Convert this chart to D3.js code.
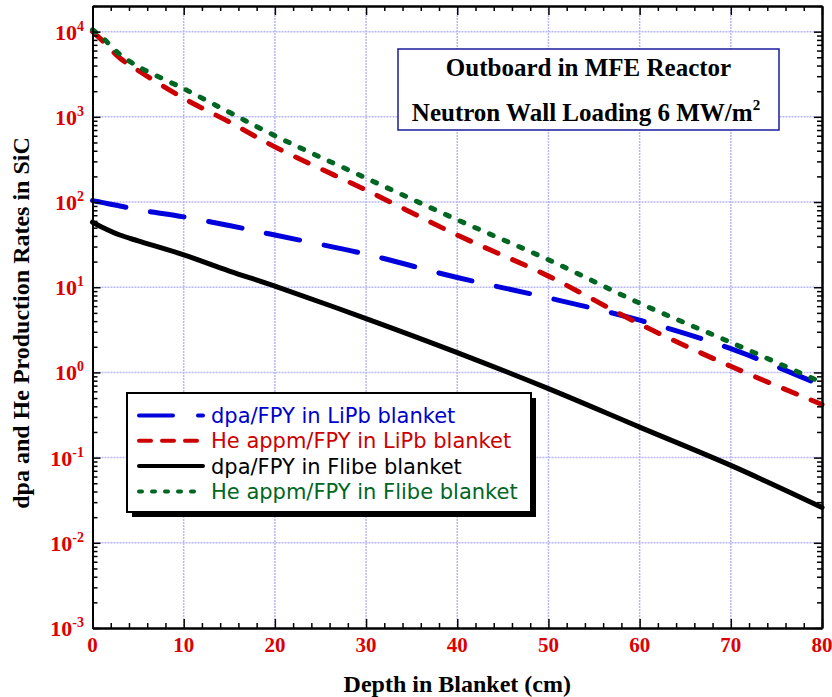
<!DOCTYPE html>
<html>
<head>
<meta charset="utf-8">
<script src="https://cdn.jsdelivr.net/npm/d3@7"></script>
<style>
  body { margin: 0; background: #fff; }
</style>
</head>
<body>
<script>
// depth in blanket (cm) and production rates
const depth      = [0, 1, 3, 5, 10, 15, 20, 30, 40, 50, 60, 70, 80];
const dpaLiPb    = [104, 99, 90, 81, 67, 53, 41, 24.4, 13, 7.5, 4.1, 1.9, 0.70];
const heLiPb     = [10000, 8000, 4900, 3500, 1650, 870, 444, 138, 41, 13.5, 3.7, 1.18, 0.42];
const dpaFlibe   = [58, 51, 41, 35, 24, 15.5, 10.3, 4.29, 1.71, 0.645, 0.228, 0.081, 0.026];
const heFlibe    = [10500, 8700, 5400, 3900, 2140, 1130, 600, 191, 62, 21, 6.5, 2.25, 0.76];

const seriesNames = [
    "dpa/FPY in LiPb blanket",
    "He appm/FPY in LiPb blanket",
    "dpa/FPY in Flibe blanket",
    "He appm/FPY in Flibe blanket"
];
const xTickValues = [0, 10, 20, 30, 40, 50, 60, 70, 80];
const yExponents = [-3, -2, -1, 0, 1, 2, 3, 4];
const titleLine1 = "Outboard in MFE Reactor";
const titleLine2 = "Neutron Wall Loading 6 MW/m";
const xTitle = "Depth in Blanket (cm)";
const yTitle = "dpa and He Production Rates in SiC";

const width = 832, height = 697;
const plotLeft = 92.5, plotRight = 822, plotTop = 6, plotBottom = 628;
const serif = "'Liberation Serif', 'Times New Roman', serif";
const sans = "'DejaVu Sans', sans-serif";

const svg = d3.select("body").append("svg")
    .attr("width", width)
    .attr("height", height)
    .attr("font-family", serif);

const x = d3.scaleLinear().domain([0, 80]).range([plotLeft, plotRight]);
const y = d3.scaleLog().domain([1e-3, 2e4]).range([plotBottom, plotTop]);

const gridColor = "#b8b8f4";
const red = "#dd0000";

// grid
const grid = svg.append("g");
grid.selectAll(".gx").data(xTickValues.slice(1, -1)).enter().append("line")
    .attr("x1", d => x(d)).attr("x2", d => x(d))
    .attr("y1", plotTop).attr("y2", plotBottom)
    .attr("stroke", gridColor).attr("stroke-width", 1.5)
    .attr("stroke-dasharray", "2,1");
grid.selectAll(".gy").data(yExponents.slice(1)).enter().append("line")
    .attr("x1", plotLeft).attr("x2", plotRight)
    .attr("y1", d => y(Math.pow(10, d))).attr("y2", d => y(Math.pow(10, d)))
    .attr("stroke", gridColor).attr("stroke-width", 1.5)
    .attr("stroke-dasharray", "2,1");

// series
const series = [
    { values: dpaLiPb,  color: "#0000dd", dash: "34,25", legendDash: "34,25" },
    { values: heLiPb,   color: "#cc0000", dash: "14,16", legendDash: "12,11" },
    { values: dpaFlibe, color: "#000000", dash: null,    legendDash: null },
    { values: heFlibe,  color: "#006622", dash: "4,12",  legendDash: "3,10" }
];

const line = d3.line()
    .x(d => x(d[0]))
    .y(d => y(d[1]))
    .curve(d3.curveCatmullRom.alpha(0.5));

// draw order: black, blue, red, green on top
[2, 0, 1, 3].forEach(i => {
    const s = series[i];
    svg.append("path")
        .datum(depth.map((d, j) => [d, s.values[j]]))
        .attr("d", line)
        .attr("fill", "none")
        .attr("stroke", s.color)
        .attr("stroke-width", 5)
        .attr("stroke-linecap", "round")
        .attr("stroke-dasharray", s.dash);
});

// axes - ticks point inward on all four sides
const minorX = d3.range(0, 81, 2).filter(d => d % 10 !== 0);
const minorY = [];
yExponents.slice(0, -1).forEach(e => {
    for (let m = 2; m <= 9; m++) minorY.push(m * Math.pow(10, e));
});
minorY.push(2e4);

function styleAxis(g) {
    g.selectAll("path").attr("stroke", "#000").attr("stroke-width", 2);
    g.selectAll("line").attr("stroke", "#000").attr("stroke-width", 1.5);
    g.selectAll("text").remove();
}

svg.append("g").attr("transform", `translate(0,${plotBottom})`)
    .call(d3.axisBottom(x).tickValues(xTickValues).tickSize(-9).tickSizeOuter(0).tickFormat(""))
    .call(styleAxis);
svg.append("g").attr("transform", `translate(0,${plotBottom})`)
    .call(d3.axisBottom(x).tickValues(minorX).tickSize(-5).tickSizeOuter(0).tickFormat(""))
    .call(styleAxis);
svg.append("g").attr("transform", `translate(0,${plotTop})`)
    .call(d3.axisTop(x).tickValues(xTickValues).tickSize(-9).tickSizeOuter(0).tickFormat(""))
    .call(styleAxis);
svg.append("g").attr("transform", `translate(0,${plotTop})`)
    .call(d3.axisTop(x).tickValues(minorX).tickSize(-5).tickSizeOuter(0).tickFormat(""))
    .call(styleAxis);

const yMajor = yExponents.map(e => Math.pow(10, e));
svg.append("g").attr("transform", `translate(${plotLeft},0)`)
    .call(d3.axisLeft(y).tickValues(yMajor).tickSize(-8).tickSizeOuter(0).tickFormat(""))
    .call(styleAxis);
svg.append("g").attr("transform", `translate(${plotLeft},0)`)
    .call(d3.axisLeft(y).tickValues(minorY).tickSize(-5).tickSizeOuter(0).tickFormat(""))
    .call(styleAxis);
svg.append("g").attr("transform", `translate(${plotRight},0)`)
    .call(d3.axisRight(y).tickValues(yMajor).tickSize(-8).tickSizeOuter(0).tickFormat(""))
    .call(styleAxis);
svg.append("g").attr("transform", `translate(${plotRight},0)`)
    .call(d3.axisRight(y).tickValues(minorY).tickSize(-5).tickSizeOuter(0).tickFormat(""))
    .call(styleAxis);

// tick labels
svg.selectAll(".xlab").data(xTickValues).enter().append("text")
    .attr("x", d => x(d))
    .attr("y", 652)
    .attr("text-anchor", "middle")
    .attr("font-size", 21)
    .attr("font-weight", "bold")
    .attr("fill", red)
    .text(d => d);

const ylab = svg.selectAll(".ylab").data(yExponents).enter().append("text")
    .attr("x", 84)
    .attr("y", d => y(Math.pow(10, d)) + 8)
    .attr("text-anchor", "end")
    .attr("font-weight", "bold")
    .attr("fill", red);
ylab.append("tspan").attr("font-size", 22).text("10");
ylab.append("tspan").attr("font-size", 14).attr("dy", -9).text(d => d);

// axis titles
svg.append("text")
    .attr("x", (plotLeft + plotRight) / 2)
    .attr("y", 692)
    .attr("text-anchor", "middle")
    .attr("font-size", 24)
    .attr("font-weight", "bold")
    .text(xTitle);

svg.append("text")
    .attr("transform", `translate(29,${(plotTop + plotBottom) / 2 + 6}) rotate(-90)`)
    .attr("text-anchor", "middle")
    .attr("font-size", 24)
    .attr("font-weight", "bold")
    .text(yTitle);

// title box
const tb = svg.append("g");
tb.append("rect")
    .attr("x", 398).attr("y", 49).attr("width", 381).attr("height", 81)
    .attr("fill", "#fff").attr("stroke", "#1a1aa0").attr("stroke-width", 1.5);
tb.append("text")
    .attr("x", 588.5).attr("y", 76)
    .attr("text-anchor", "middle")
    .attr("font-size", 25).attr("font-weight", "bold")
    .text(titleLine1);
const t2 = tb.append("text")
    .attr("x", 586).attr("y", 121)
    .attr("text-anchor", "middle")
    .attr("font-size", 25).attr("font-weight", "bold");
t2.append("tspan").text(titleLine2);
t2.append("tspan").attr("font-size", 15).attr("dy", -11).text("2");

// legend
const lg = svg.append("g");
lg.append("rect")
    .attr("x", 132).attr("y", 398).attr("width", 404).attr("height", 119)
    .attr("fill", "#000");
lg.append("rect")
    .attr("x", 127).attr("y", 393).attr("width", 404).attr("height", 119)
    .attr("fill", "#fff").attr("stroke", "#000").attr("stroke-width", 2);

const legendText = ["#0000cc", "#cc0000", "#000000", "#006622"];
seriesNames.forEach((name, i) => {
    const s = series[i];
    const ly = 415.5 + i * 25.3;
    lg.append("line")
        .attr("x1", 139).attr("x2", 203)
        .attr("y1", ly).attr("y2", ly)
        .attr("stroke", s.color)
        .attr("stroke-width", 4)
        .attr("stroke-linecap", "round")
        .attr("stroke-dasharray", s.legendDash);
    lg.append("text")
        .attr("x", 211)
        .attr("y", ly + 7.5)
        .attr("font-family", sans)
        .attr("font-size", 21)
        .attr("fill", legendText[i])
        .text(name);
});
</script>
</body>
</html>
